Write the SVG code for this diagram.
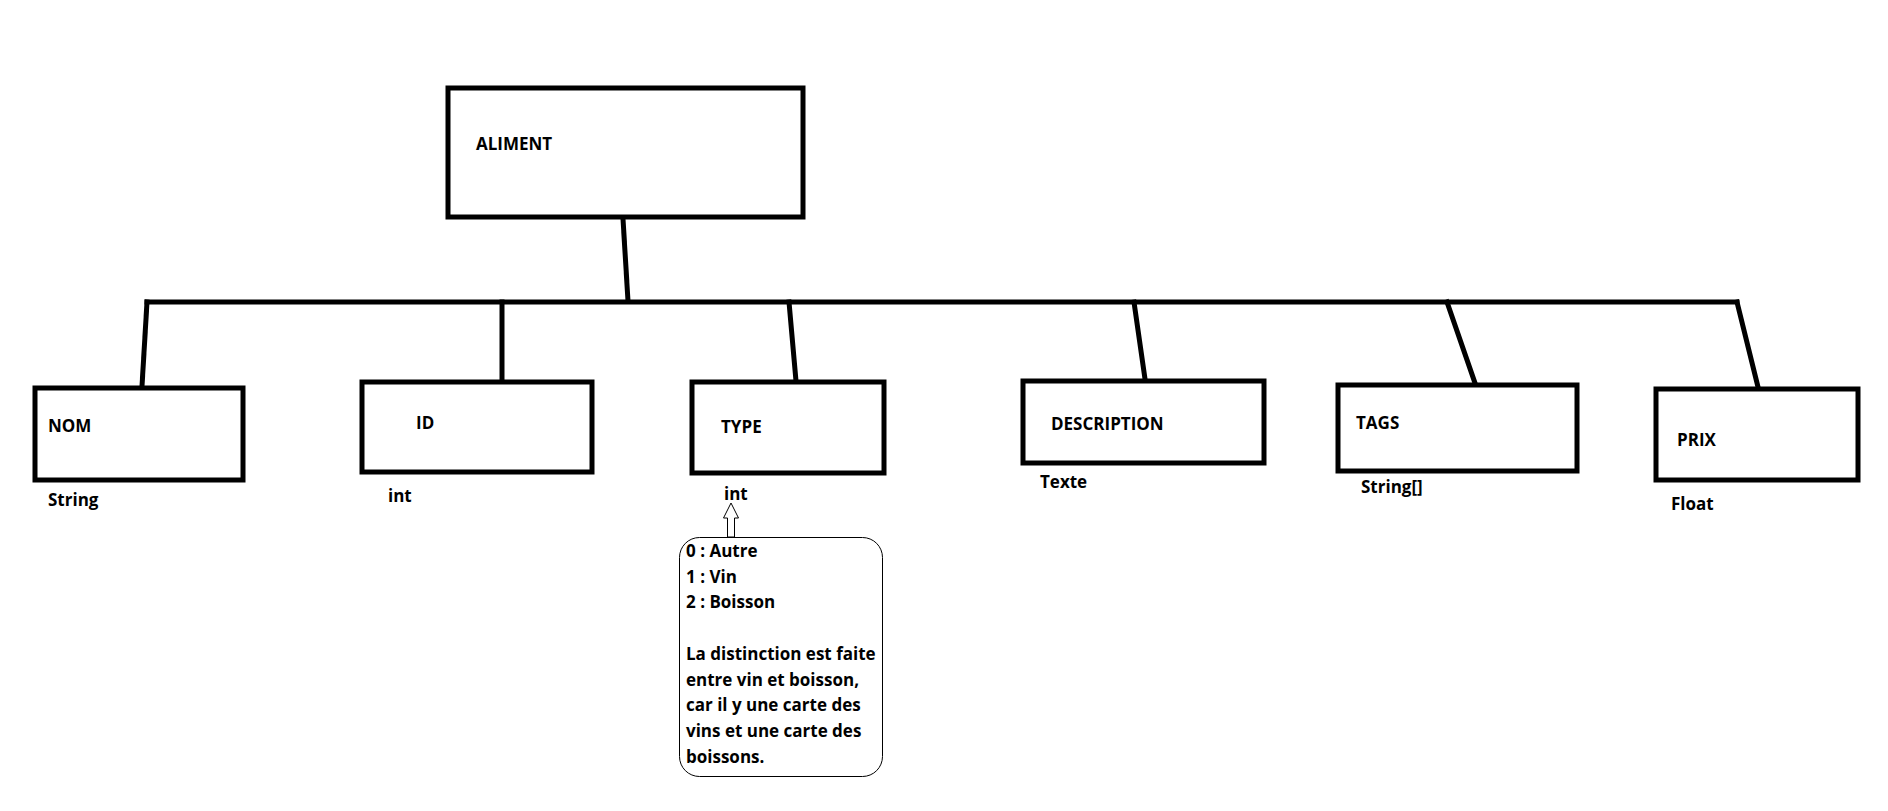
<svg xmlns="http://www.w3.org/2000/svg" width="1888" height="811" viewBox="0 0 1888 811">
<style>
.box{fill:#fff;stroke:#000;stroke-width:5}
.conn{stroke:#000;stroke-width:5;fill:none;stroke-linecap:square}
.lbl{font-family:"Open Sans","Liberation Sans",sans-serif;font-weight:bold;font-size:17px;fill:#000}
.note{font-family:"Open Sans","Liberation Sans",sans-serif;font-weight:bold;font-size:17px;fill:#000}
</style>
<rect width="1888" height="811" fill="#fff"/>
<g id="connectors">
<line class="conn" x1="623" y1="219" x2="628" y2="301"/>
<line class="conn" x1="147" y1="302" x2="1737" y2="302"/>
<line class="conn" x1="147" y1="302" x2="142" y2="386"/>
<line class="conn" x1="502" y1="302" x2="502" y2="380"/>
<line class="conn" x1="789" y1="302" x2="796" y2="381"/>
<line class="conn" x1="1134" y1="302" x2="1145" y2="379"/>
<line class="conn" x1="1447" y1="302" x2="1475" y2="383"/>
<line class="conn" x1="1737" y1="302" x2="1758" y2="387"/>
</g>
<g id="aliment">
<rect class="box" x="448" y="88" width="355" height="129"/>
<text class="lbl" x="476" y="150">ALIMENT</text>
</g>
<g id="nom">
<rect class="box" x="35" y="388" width="208" height="92"/>
<text class="lbl" x="48" y="432">NOM</text>
<text class="lbl" x="48" y="506">String</text>
</g>
<g id="id">
<rect class="box" x="362" y="382" width="230" height="90"/>
<text class="lbl" x="416" y="429">ID</text>
<text class="lbl" x="388" y="502">int</text>
</g>
<g id="type">
<rect class="box" x="692" y="382" width="192" height="91"/>
<text class="lbl" x="721" y="433">TYPE</text>
<text class="lbl" x="724" y="500">int</text>
</g>
<g id="description">
<rect class="box" x="1023" y="381" width="241" height="82"/>
<text class="lbl" x="1051" y="430">DESCRIPTION</text>
<text class="lbl" x="1040" y="488">Texte</text>
</g>
<g id="tags">
<rect class="box" x="1338" y="385" width="239" height="86"/>
<text class="lbl" x="1356" y="429">TAGS</text>
<text class="lbl" x="1361" y="493">String[]</text>
</g>
<g id="prix">
<rect class="box" x="1656" y="389" width="202" height="91"/>
<text class="lbl" x="1677" y="446">PRIX</text>
<text class="lbl" x="1671" y="510">Float</text>
</g>
<g id="type-note">
<polygon points="731,503 738.5,518 734.5,518 734.5,537 727.5,537 727.5,518 723.5,518" fill="#fff" stroke="#000" stroke-width="1"/>
<rect x="679.5" y="537.5" width="203" height="239" rx="20" ry="20" fill="#fff" stroke="#000" stroke-width="1"/>
<text class="note" x="686">
<tspan x="686" y="557">0 : Autre</tspan>
<tspan x="686" y="583">1 : Vin</tspan>
<tspan x="686" y="608">2 : Boisson</tspan>
<tspan x="686" y="660">La distinction est faite</tspan>
<tspan x="686" y="686">entre vin et boisson,</tspan>
<tspan x="686" y="711">car il y une carte des</tspan>
<tspan x="686" y="737">vins et une carte des</tspan>
<tspan x="686" y="763">boissons.</tspan>
</text>
</g>
</svg>
